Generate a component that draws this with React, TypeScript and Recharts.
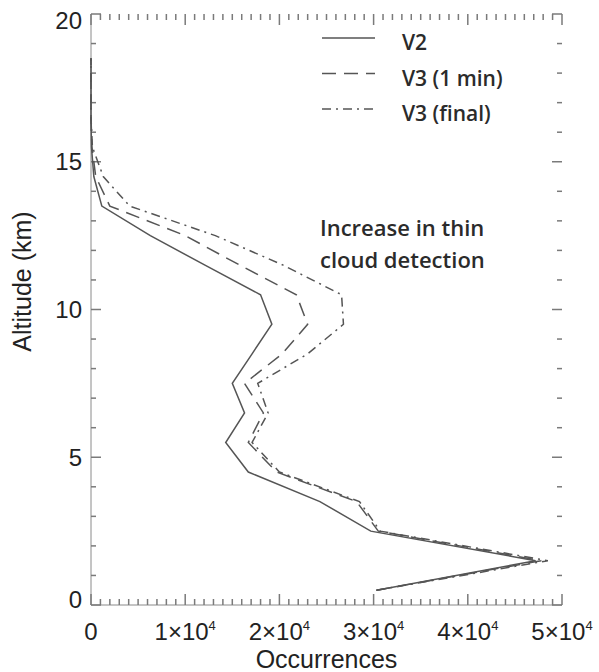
import React from 'react';
import { ScatterChart, Scatter, XAxis, YAxis, Legend } from 'recharts';

// altitude bin centres (km)
const altitudes = [0.5, 1.5, 2.5, 3.5, 4.5, 5.5, 6.5, 7.5, 8.5, 9.5, 10.5, 11.5, 12.5, 13.5, 14.5, 15.5, 16.5, 17.5, 18.5];

// occurrences per altitude bin
const v2 = [30300, 47200, 29700, 24300, 16700, 14300, 16300, 15000, 17100, 19200, 18000, 12100, 6300, 1150, 300, 50, 0, 0, 0];
const v3OneMin = [30300, 47800, 30500, 28200, 19700, 16700, 18300, 16300, 20300, 23000, 21800, 15800, 10000, 2000, 500, 100, 0, 0, 0];
const v3Final = [30300, 48500, 30700, 28500, 20000, 17100, 18800, 17700, 23000, 26800, 26600, 20400, 13200, 4100, 1300, 150, 0, 0, 0];

const seriesNames = ['V2', 'V3 (1 min)', 'V3 (final)'];
const seriesDash = ['none', '14 8', '9 5 2 5'];

const xMajor = [0, 10000, 20000, 30000, 40000, 50000];
const yMajor = [0, 5, 10, 15, 20];

const xTicks: number[] = [];
for (let v = 0; v <= 50000; v += 1000) xTicks.push(v);
const yTicks: number[] = [];
for (let v = 0; v <= 20; v += 1) yTicks.push(v);

const toPoints = (vals: number[]) => altitudes.map((a, i) => ({ occ: vals[i], alt: a }));
const allSeries = [v2, v3OneMin, v3Final].map(toPoints);

// inward tick marks on all four sides, placed through the chart scales
const tickMarks = [
  ...xTicks.map((v) => ({ occ: v, alt: 0, side: 'b', major: xMajor.includes(v) })),
  ...xTicks.map((v) => ({ occ: v, alt: 20, side: 't', major: xMajor.includes(v) })),
  ...yTicks.map((v) => ({ occ: 0, alt: v, side: 'l', major: yMajor.includes(v) })),
  ...yTicks.map((v) => ({ occ: 50000, alt: v, side: 'r', major: yMajor.includes(v) })),
];

const AXIS = '#8a8a8a';
const TICK = '#7a7a7a';
const INK = '#222';
const CURVE = '#555';
const TICK_FONT = '"Liberation Sans", Arial, sans-serif';
const NOTE_FONT = '"Open Sans", sans-serif';

const TickMark = (props: any) => {
  const { cx, cy, payload } = props;
  const len = payload.major ? 11 : 6;
  let d = '';
  if (payload.side === 'b') d = `M${cx},${cy}V${cy - len}`;
  else if (payload.side === 't') d = `M${cx},${cy}V${cy + len}`;
  else if (payload.side === 'l') d = `M${cx},${cy}H${cx + len - 1}`;
  else d = `M${cx},${cy}H${cx - len + 1}`;
  return <path d={d} stroke={TICK} strokeWidth={1.5} fill="none" />;
};

const BottomTick = (props: any) => {
  const x = Number(props.x);
  const y = Number(props.y);
  const v = props.payload.value;
  const major = xMajor.includes(v);
  return (
    <g>
      {major && (
        <text x={x} y={y + 35} textAnchor="middle" fontFamily={TICK_FONT} fontSize={24} fill={INK}>
          {v === 0 ? (
            '0'
          ) : (
            <>
              <tspan>{`${v / 10000}×10`}</tspan>
              <tspan dy={-10} fontSize={13}>4</tspan>
            </>
          )}
        </text>
      )}
      {/* axis title sits under the middle of the axis */}
      {v === 25000 && (
        <text x={x} y={y + 63} textAnchor="middle" fontFamily={TICK_FONT} fontSize={25} fill={INK}>
          Occurrences
        </text>
      )}
    </g>
  );
};

const LeftTick = (props: any) => {
  const x = Number(props.x);
  const y = Number(props.y);
  const v = props.payload.value;
  const major = yMajor.includes(v);
  // IDL nudges the end labels inwards
  const shift = v === 20 ? 6 : v === 0 ? -6 : 0;
  const cx = x - 69;
  const cy = y - 28;
  return (
    <g>
      {major && (
        <text x={x - 9} y={y + shift + 8.5} textAnchor="end" fontFamily={TICK_FONT} fontSize={24} fill={INK}>
          {v}
        </text>
      )}
      {v === 10 && (
        <text x={cx} y={cy + 9} transform={`rotate(-90 ${cx} ${cy})`} textAnchor="middle"
          fontFamily={TICK_FONT} fontSize={25} fill={INK}>
          Altitude (km)
        </text>
      )}
    </g>
  );
};

const LegendBox = () => (
  <svg width={260} height={140}>
    {seriesNames.map((name, i) => {
      const ly = 38 + i * 35.5;
      return (
        <g key={name}>
          <line x1={22} x2={75} y1={ly} y2={ly} stroke={CURVE} strokeWidth={1.5}
            strokeDasharray={seriesDash[i] === 'none' ? undefined : seriesDash[i]} />
          <text x={102} y={ly + 12} fontFamily={NOTE_FONT} fontWeight={600} fontSize={21} fill="#2b2b2b">
            {name}
          </text>
        </g>
      );
    })}
  </svg>
);

const noMark = () => <g />;

export default function App() {
  return (
    <div style={{ position: 'absolute', left: 0, top: 0, width: 599, height: 672, background: '#fff' }}>
      <ScatterChart width={599} height={672} margin={{ top: 14, right: 37, bottom: 7, left: 31 }}>
        <XAxis
          xAxisId="bottom"
          type="number"
          dataKey="occ"
          domain={[0, 50000]}
          ticks={xTicks}
          interval={0}
          height={60}
          tickSize={0}
          tickMargin={0}
          tickLine={false}
          stroke={AXIS}
          tick={BottomTick}
        />
        <XAxis
          xAxisId="top"
          orientation="top"
          type="number"
          dataKey="occ"
          domain={[0, 50000]}
          ticks={xTicks}
          interval={0}
          height={0}
          tickSize={0}
          tickMargin={0}
          tickLine={false}
          stroke={AXIS}
          tick={false}
        />
        <YAxis
          yAxisId="left"
          type="number"
          dataKey="alt"
          domain={[0, 20]}
          ticks={yTicks}
          interval={0}
          width={60}
          tickSize={0}
          tickMargin={0}
          tickLine={false}
          stroke={AXIS}
          tick={LeftTick}
        />
        <YAxis
          yAxisId="right"
          orientation="right"
          type="number"
          dataKey="alt"
          domain={[0, 20]}
          ticks={yTicks}
          interval={0}
          width={0}
          tickSize={0}
          tickMargin={0}
          tickLine={false}
          stroke={AXIS}
          tick={false}
        />
        {/* invisible series so the mirrored top / right axes get drawn */}
        <Scatter
          data={allSeries[0]}
          xAxisId="top"
          yAxisId="right"
          shape={noMark}
          legendType="none"
          isAnimationActive={false}
        />
        <Scatter
          data={tickMarks}
          xAxisId="bottom"
          yAxisId="left"
          shape={TickMark}
          legendType="none"
          isAnimationActive={false}
        />
        {allSeries.map((pts, i) => (
          <Scatter
            key={seriesNames[i]}
            name={seriesNames[i]}
            data={pts}
            xAxisId="bottom"
            yAxisId="left"
            line={{
              stroke: CURVE,
              strokeWidth: 1.5,
              strokeDasharray: seriesDash[i] === 'none' ? undefined : seriesDash[i],
            }}
            lineType="joint"
            shape={noMark}
            isAnimationActive={false}
          />
        ))}
        <Legend
          layout="horizontal"
          verticalAlign="middle"
          align="center"
          content={() => <LegendBox />}
          wrapperStyle={{ position: 'absolute', left: 300, top: 0, width: 260, height: 140 }}
        />
      </ScatterChart>
      <div
        style={{
          position: 'absolute',
          left: 320,
          top: 210.5,
          fontFamily: NOTE_FONT,
          fontWeight: 600,
          fontSize: 22,
          lineHeight: '32px',
          color: '#2b2b2b',
          whiteSpace: 'pre',
          pointerEvents: 'none',
        }}
      >
        {'Increase in thin\ncloud detection'}
      </div>
    </div>
  );
}
